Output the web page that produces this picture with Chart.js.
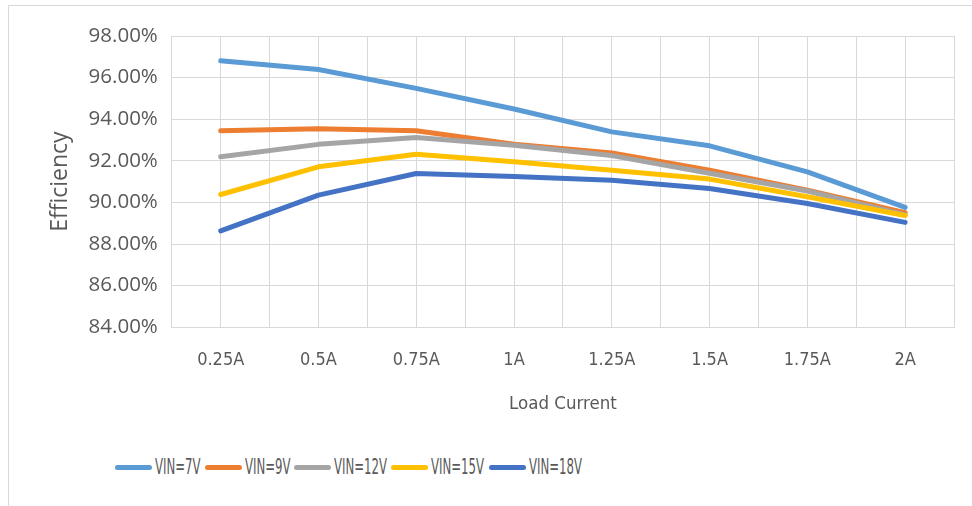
<!DOCTYPE html>
<html>
<head>
<meta charset="utf-8">
<script src="https://cdn.jsdelivr.net/npm/chart.js@4.4.1/dist/chart.umd.min.js"></script>
<style>
  html, body { margin: 0; padding: 0; background: #fff; }
  #wrap { position: relative; width: 972px; height: 506px; overflow: hidden; }
  #frame { position: absolute; left: 8px; top: 5px; width: 1000px; height: 600px; border: 1px solid #d9d9d9; box-sizing: border-box; }
  #box { position: absolute; left: 0; top: 0; width: 976px; height: 415px; }
  #legend { position: absolute; left: 115px; top: 455px; display: flex; align-items: center; white-space: nowrap;
    font-family: "DejaVu Sans Condensed", "DejaVu Sans", sans-serif; font-size: 21px; color: #595959; }
  #legend .item { display: flex; align-items: center; }
  #legend .sw { width: 37px; height: 5px; border-radius: 3px; margin-right: 3px; flex: none; }
  #legend .txt { display: inline-block; transform-origin: left center; }
</style>
</head>
<body>
<div id="wrap">
  <div id="frame"></div>
  <div id="box"><canvas id="chart"></canvas></div>
  <div id="legend"></div>
</div>
<script>
// load current categories
const loadCurrent = ["0.25A", "0.5A", "0.75A", "1A", "1.25A", "1.5A", "1.75A", "2A"];
// efficiency in %
const vin7 = [96.81, 96.39, 95.48, 94.49, 93.39, 92.72, 91.47, 89.76];
const vin9 = [93.44, 93.54, 93.44, 92.80, 92.38, 91.55, 90.59, 89.50];
const vin12 = [92.19, 92.79, 93.12, 92.75, 92.25, 91.40, 90.55, 89.40];
const vin15 = [90.38, 91.71, 92.31, 91.95, 91.55, 91.12, 90.27, 89.37];
const vin18 = [88.63, 90.35, 91.39, 91.25, 91.07, 90.67, 89.95, 89.04];

const seriesNames = ["VIN=7V", "VIN=9V", "VIN=12V", "VIN=15V", "VIN=18V"];
const seriesColors = ["#5B9BD5", "#ED7D31", "#A5A5A5", "#FFC000", "#4472C4"];
const seriesData = [vin7, vin9, vin12, vin15, vin18];

const yTicks = { min: 84, max: 98, step: 2 };

const narrow = '"DejaVu Sans Condensed", "DejaVu Sans", sans-serif';
const wide = '"Open Sans", sans-serif';
const gridColor = "#d9d9d9";
const textColor = "#595959";

// categories sit on odd positions of a 0..16 linear axis, so the grid shows
// a line at each category and one half way between (like Excel)
const datasets = seriesData.map((vals, i) => ({
  label: seriesNames[i],
  data: vals.map((v, j) => ({ x: 2 * j + 1, y: v })),
  borderColor: seriesColors[i],
  backgroundColor: seriesColors[i],
  borderWidth: 5,
  pointRadius: 0,
  tension: 0,
  borderCapStyle: "round",
  borderJoinStyle: "round",
  order: seriesData.length - i,
}));

new Chart(document.getElementById("chart"), {
  type: "line",
  data: { datasets: datasets },
  options: {
    responsive: true,
    maintainAspectRatio: false,
    animation: false,
    layout: { padding: { left: 47, right: 12, top: 36, bottom: 0 } },
    plugins: { legend: { display: false }, tooltip: { enabled: false } },
    scales: {
      x: {
        type: "linear",
        min: 0,
        max: loadCurrent.length * 2,
        grid: { color: gridColor, lineWidth: 1, drawTicks: false },
        border: { color: gridColor },
        ticks: {
          stepSize: 1,
          autoSkip: false,
          maxRotation: 0,
          padding: 22,
          color: textColor,
          font: { family: narrow, size: 18 },
          callback: (v) => (v % 2 === 1 ? loadCurrent[(v - 1) / 2] : ""),
        },
        title: {
          display: true,
          text: "Load Current",
          color: textColor,
          font: { family: narrow, size: 18.5 },
          padding: { top: 0, bottom: 0 },
        },
      },
      y: {
        min: yTicks.min,
        max: yTicks.max,
        grid: { color: gridColor, lineWidth: 1, drawTicks: false },
        border: { color: gridColor },
        ticks: {
          stepSize: yTicks.step,
          padding: 14,
          color: textColor,
          font: { family: wide, size: 20.5 },
          callback: (v) => v.toFixed(2) + "%",
        },
        title: {
          display: true,
          text: "Efficiency",
          color: textColor,
          font: { family: wide, size: 23 },
          padding: { top: 0, bottom: 0 },
        },
      },
    },
  },
});

// legend under the chart, text squeezed to the narrow look of the original
const legend = document.getElementById("legend");
const squeeze = 0.62;
seriesNames.forEach((name, i) => {
  const item = document.createElement("div");
  item.className = "item";
  const sw = document.createElement("span");
  sw.className = "sw";
  sw.style.background = seriesColors[i];
  const txt = document.createElement("span");
  txt.className = "txt";
  txt.textContent = name;
  item.appendChild(sw);
  item.appendChild(txt);
  legend.appendChild(item);
  const w = txt.offsetWidth;
  txt.style.transform = "scaleX(" + squeeze + ")";
  txt.style.marginRight = (4 - w * (1 - squeeze)) + "px";
});
</script>
</body>
</html>
